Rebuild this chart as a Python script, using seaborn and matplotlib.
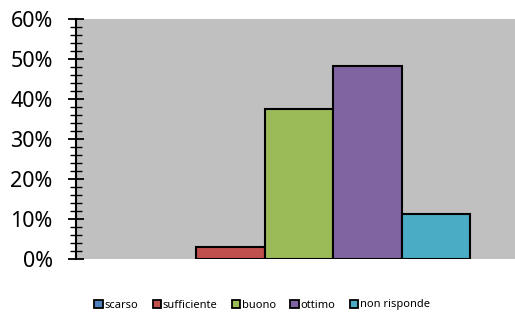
import matplotlib
matplotlib.use("Agg")
import matplotlib.pyplot as plt
from matplotlib.patches import Patch
from matplotlib.ticker import MultipleLocator, PercentFormatter
import pandas as pd
import seaborn as sns

# Data (share of answers)
categories = ["scarso", "sufficiente", "buono", "ottimo", "non risponde"]
shares = [0.0, 0.029, 0.374, 0.482, 0.113]
colors = ["#4F81BD", "#C0504D", "#9BBB59", "#8064A2", "#4BACC6"]

sns.set_style("white")
plt.rcParams["font.family"] = ["Noto Sans", "DejaVu Sans"]
plt.rcParams["text.color"] = "black"
plt.rcParams["ytick.color"] = "black"
plt.rcParams["ytick.labelcolor"] = "black"

df = pd.DataFrame({"group": [""] * len(categories), "giudizio": categories, "quota": shares})

fig = plt.figure(figsize=(5.15, 3.14), dpi=100)
ax = fig.add_axes([76 / 515, 1 - 259 / 314, 1 - 76 / 515, 240 / 314])
ax.set_facecolor("#C0C0C0")

sns.barplot(data=df, x="group", y="quota", hue="giudizio", hue_order=categories,
            palette=colors, saturation=1, width=0.78, edgecolor="black",
            linewidth=1.5, legend=False, ax=ax)

# Excel doesn't draw empty bars
for p in ax.patches:
    if p.get_height() == 0:
        p.set_visible(False)

ax.set_xlim(-0.5075, 0.4925)
ax.set_ylim(0, 0.6)
ax.yaxis.set_major_locator(MultipleLocator(0.1))
ax.yaxis.set_minor_locator(MultipleLocator(0.02))
ax.yaxis.set_major_formatter(PercentFormatter(1, decimals=0))
ax.tick_params(axis="y", which="major", direction="inout", length=11.5, width=1.3,
               labelsize=15.5, pad=11, left=True, color="black", labelcolor="black")
ax.tick_params(axis="y", which="minor", direction="inout", length=8.5, width=1.0,
               left=True, color="black")
ax.set_xticks([])
ax.set_xlabel("")
ax.set_ylabel("")

for side in ["top", "right", "bottom"]:
    ax.spines[side].set_visible(False)
ax.spines["left"].set_color("black")
ax.spines["left"].set_linewidth(1.5)

handles = [Patch(facecolor=c, edgecolor="black", linewidth=1.3) for c in colors]
fig.legend(handles, categories, loc="center", bbox_to_anchor=(262 / 515, 1 - 305 / 314),
           ncol=5, frameon=False, fontsize=8, handlelength=0.75, handleheight=0.75,
           handletextpad=0.15, columnspacing=1.3, labelcolor="black")

fig.savefig("out.png", dpi=100)
